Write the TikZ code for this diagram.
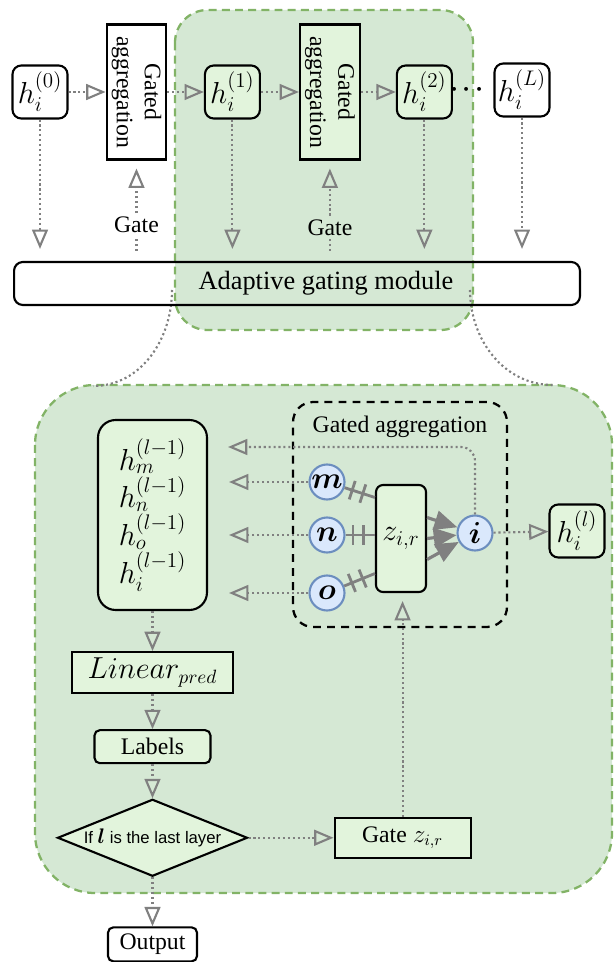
\documentclass[tikz,border=0pt]{standalone}
\usepackage{xcolor}
\usepackage{amsmath}
\usepackage{graphicx}
\usepackage{fontspec}
\setmainfont{Liberation Serif}
\newfontfamily\arialfont{Liberation Sans}
\usepackage{tikz}
\usetikzlibrary{positioning,shapes.geometric,arrows.meta,decorations.markings}
\definecolor{regionfill}{HTML}{D5E8D4}
\definecolor{regionline}{HTML}{82B366}
\definecolor{leaf}{HTML}{E2F4DC}
\definecolor{tokenfill}{HTML}{DAE8FC}
\definecolor{tokenline}{HTML}{6C8EBF}
\definecolor{wire}{HTML}{808080}
\newcommand{\hvec}[1]{$h_i^{(#1)}$}
\newcommand{\hprev}[1]{$h_{#1}^{(l-1)}$}
\newcommand{\gatedagg}{\rotatebox{-90}{\begin{tabular}{@{}c@{}}Gated\\aggregation\end{tabular}}}

\begin{document}
\begin{tikzpicture}[x=0.02cm,y=-0.02cm,
    every node/.style={font=\fontsize{13.5}{16}\selectfont},
    mathfont/.style={font=\fontsize{18}{21.5}\selectfont},
    hbox/.style={draw,line width=1.2pt,rounded corners=5pt,fill=leaf,minimum width=1.1cm,minimum height=1.06cm,inner sep=1pt,mathfont},
    gabox/.style={draw,line width=1.2pt,fill=leaf,minimum width=1.18cm,minimum height=2.7cm,inner sep=1pt},
    plainbox/.style={draw,line width=1.2pt,fill=leaf,inner sep=2pt},
    token/.style={circle,draw=tokenline,line width=1.2pt,fill=tokenfill,minimum size=0.7cm,inner sep=0pt,mathfont},
    zone/.style={draw=regionline,fill=regionfill,line width=1.3pt,dash pattern=on 4.5pt off 3pt},
    dotline/.style={wire,line width=1.2pt,dash pattern=on 1.2pt off 1.6pt},
    flow/.style={dotline,-{Triangle[open,length=11pt,width=9pt,line width=1.2pt]}},
    merge/.style={wire,line width=1.8pt,-{Triangle[length=13pt,width=11pt]}},
    barred/.style={wire,line width=1.6pt,postaction={decorate},decoration={markings,
        mark=at position 0.25 with {\draw[wire,line width=1.6pt] (0,-5.5pt)--(0,5.5pt);},
        mark=at position 0.6 with {\draw[wire,line width=1.6pt] (0,-5.5pt)--(0,5.5pt);}}}]
    \useasboundingbox (0,0) rectangle (615,962);
    % shaded zones
    \draw[zone,rounded corners=0.65cm] (175,10) rectangle (473,330);
    \draw[zone,rounded corners=1.2cm] (35,385) rectangle (612,893);
    \coordinate (zoomL) at (172,290);
    \coordinate (zoomR) at (470,290);
    \coordinate (zoomLb) at (93,386);
    \coordinate (zoomRb) at (553,385);
    \draw[dotline] (zoomL) to[out=-90,in=0] (zoomLb);
    \draw[dotline] (zoomR) to[out=-90,in=180] (zoomRb);

    % layer stack
    \node[hbox,fill=white] (h0) at (40,92) {\hvec{0}};
    \node[gabox,fill=white,right=0.74cm of h0] (ga1) {\gatedagg};
    \node[hbox,right=0.73cm of ga1] (h1) {\hvec{1}};
    \node[gabox,right=0.76cm of h1] (ga2) {\gatedagg};
    \node[hbox,right=0.7cm of ga2] (h2) {\hvec{2}};
    \node[font=\fontsize{20}{20}\selectfont] (dots) at (467,90) {${\cdot}\hspace{1.5pt}{\cdot}\hspace{1.5pt}{\cdot}$};
    \node[hbox,fill=white] (hL) at (522,90) {\hvec{L}};
    \node[draw,line width=1.2pt,rounded corners=5pt,minimum width=11.32cm,minimum height=0.86cm,font=\fontsize{15}{18}\selectfont] (agm) at (297,283.5) {\hspace*{1.16cm}Adaptive gating module};
    \node[inner sep=2pt,below=1.05cm of ga1] (gate1) {Gate};
    \node[inner sep=2pt,below=1.1cm of ga2] (gate2) {Gate};

    \draw[flow] (h0) -- (ga1);
    \draw[flow] (ga1) -- (h1);
    \draw[flow] (h1) -- (ga2);
    \draw[flow] (ga2) -- (h2);
    \foreach \n in {h0,h1,h2,hL}
      \draw[flow,shorten >=0.24cm] (\n) -- (\n |- agm.north);
    \foreach \g/\a in {gate1/ga1,gate2/ga2}{
      \draw[flow,shorten >=0.16cm] (\g) -- (\a);
      \draw[dotline,shorten <=0.2cm] (\g |- agm.north) -- (\g);
    }

    % one layer in detail
    \node[draw,line width=1.3pt,dash pattern=on 4.5pt off 3.5pt,rounded corners=0.4cm,minimum width=4.28cm,minimum height=4.5cm] (gabig) at (400,514.5) {};
    \node[anchor=north] (gatitle) at ([yshift=-0.18cm]gabig.north) {Gated aggregation};
    \node[plainbox,rounded corners=10pt,minimum width=2.18cm,minimum height=3.8cm,align=left,mathfont] (stack) at (152.5,515) {\hprev{m}\\\hprev{n}\\\hprev{o}\\\hprev{i}};
    \node[token] (m) at (327,482) {$\boldsymbol{m}$};
    \node[token] (n) at (327,535) {$\boldsymbol{n}$};
    \node[token] (o) at (327,593) {$\boldsymbol{o}$};
    \node[token] (i) at (475,533) {$\boldsymbol{i}$};
    \node[plainbox,rounded corners=4pt,minimum width=1cm,minimum height=2.14cm,mathfont] (z) at (401,538.5) {$z_{i,r}$};
    \node[hbox] (hl) at (577,531) {\hvec{l}};

    \node[plainbox,font=\fontsize{16}{19}\selectfont,minimum width=3.22cm,minimum height=0.82cm,below=0.8cm of stack] (linear) {$Linear_{pred}$};
    \node[plainbox,rounded corners=3pt,minimum width=2.32cm,minimum height=0.66cm,below=0.7cm of linear] (labels) {Labels};
    \node[draw,diamond,line width=1.2pt,fill=leaf,aspect=2.5,inner sep=0pt,minimum width=3.8cm,minimum height=1.54cm,below=0.68cm of labels,font=\arialfont\fontsize{9.5}{11}\selectfont] (cond) {If {\fontsize{12.5}{12}\selectfont$\boldsymbol{l}$} is the last layer};
    \node[plainbox,rounded corners=3pt,fill=white,minimum width=1.78cm,minimum height=0.68cm,below=0.98cm of cond] (out) {Output};
    \node[plainbox,minimum width=2.72cm,minimum height=0.8cm,right=1.7cm of cond] (gatez) {Gate $z_{i,r}$};

    \draw[barred] (m) -- ([yshift=0.82cm]z.west);
    \draw[barred] (n) -- (n -| z.west);
    \draw[barred] (o) -- ([yshift=-0.7cm]z.west);
    \draw[merge] ([yshift=0.42cm]z.east) -- (i);
    \draw[merge] (z.east) -- (i);
    \draw[merge] ([yshift=-0.42cm]z.east) -- (i);
    \foreach \t in {m,n,o}
      \draw[flow,shorten >=0.42cm] (\t) -- (\t -| stack.east);
    \coordinate (iback) at (207,447);
    \draw[flow,rounded corners=8pt,shorten >=0.42cm] (i) |- (iback);
    \draw[flow] (i) -- (hl);
    \draw[flow,shorten >=0.16cm] (gatez) -- (gatez |- z.south);

    \draw[flow] (stack) -- (linear);
    \draw[flow] (linear) -- (labels);
    \draw[flow] (labels) -- (cond);
    \draw[flow] (cond) -- (out);
    \draw[flow] (cond) -- (gatez);
\end{tikzpicture}
\end{document}
